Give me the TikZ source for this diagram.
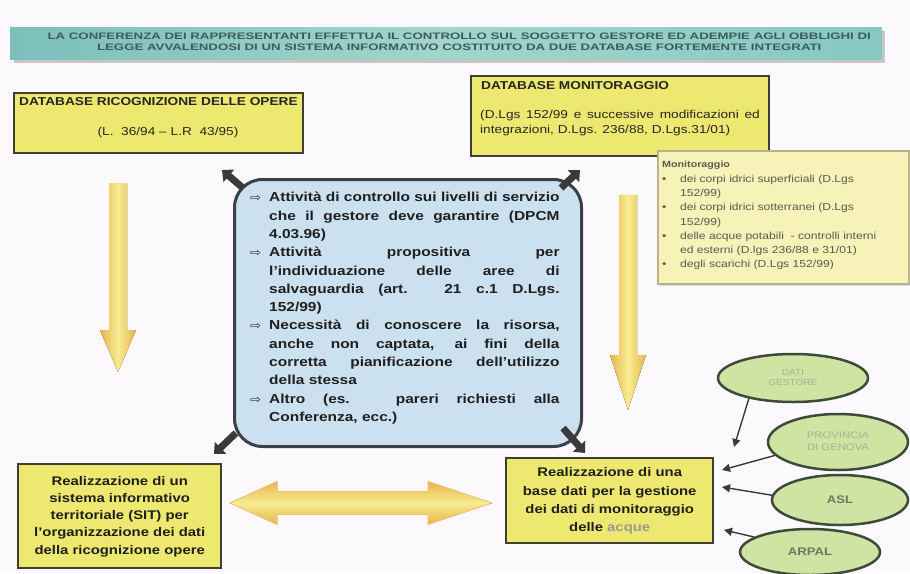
\documentclass[tikz,border=0pt]{standalone}
\usepackage{fontspec}
\setmainfont{Liberation Sans}
\newfontfamily\symf{DejaVu Sans}
\usepackage{graphicx}
\usetikzlibrary{arrows.meta,shapes.geometric,calc}
\definecolor{bgc}{HTML}{FBF9FB}
\definecolor{tealL}{HTML}{7CBFBB}
\definecolor{tealM}{HTML}{A3D5CB}
\definecolor{tealR}{HTML}{86C8C2}
\definecolor{titletext}{HTML}{3B5C5E}
\definecolor{yfill}{HTML}{EDE970}
\definecolor{boxline}{HTML}{3E3E34}
\definecolor{mfill}{HTML}{F6F2B8}
\definecolor{mline}{HTML}{B9B28A}
\definecolor{mtext}{HTML}{5A5A50}
\definecolor{cfill}{HTML}{CCE1EF}
\definecolor{cline}{HTML}{3A4048}
\definecolor{efill}{HTML}{CFE3A3}
\definecolor{eline}{HTML}{3E4A3A}
\definecolor{etextA}{HTML}{A3B392}
\definecolor{etextB}{HTML}{6B7862}
\definecolor{adark}{HTML}{3A3A3A}
\definecolor{orng}{HTML}{E8B54C}
\definecolor{lylw}{HTML}{F7EC92}
\newcommand{\sx}[1]{\scalebox{1.19}[1]{#1}}
\newcommand{\J}[2]{\makebox[#1][s]{#2}}
\newcommand{\B}{\makebox[16pt][l]{\symf\mdseries\fontsize{11}{11}\selectfont ⇨}}
\newcommand{\I}{\hspace*{16pt}}
\newcommand{\M}{\makebox[15pt][l]{•}}
\newcommand{\N}{\hspace*{15pt}}
\begin{document}
\begin{tikzpicture}[x=1pt,y=-1pt,
  ybox/.style={draw=boxline, line width=2.4pt, fill=yfill, inner sep=0pt, anchor=north west},
  ell/.style={ellipse, draw=eline, line width=2.5pt, fill=efill, inner sep=0pt},
  earrow/.style={draw=adark, line width=1.4pt, -{Triangle[length=8pt,width=8pt]}},
  carrow/.style={draw=adark, line width=7pt, -{Triangle[length=9pt,width=16pt]}},
  hfont/.style={font=\bfseries\fontsize{11.5}{13}\selectfont, inner sep=0pt, text=black!85},
  rfont/.style={font=\fontsize{11.5}{15}\selectfont, inner sep=0pt, text=black!85}]
\useasboundingbox (0,0) rectangle (910,573);
\fill[bgc] (0,0) rectangle (910,573);

% title banner
\fill[black!22] (14,31) rectangle (885,63);
\node[left color=tealL, right color=tealR, middle color=tealM, minimum width=872pt, minimum height=32pt, inner sep=0pt, anchor=north west] (title) at (10,27) {};
\node[font=\bfseries\fontsize{9.4}{11}\selectfont, text=titletext, inner sep=0pt] (titletxt) at ([xshift=13pt]title.center)
  {\scalebox{1.41}[1]{\begin{tabular}{@{}c@{}}LA CONFERENZA DEI RAPPRESENTANTI EFFETTUA IL CONTROLLO SUL SOGGETTO GESTORE ED ADEMPIE AGLI OBBLIGHI DI\\
  LEGGE AVVALENDOSI DI UN SISTEMA INFORMATIVO COSTITUITO DA DUE DATABASE FORTEMENTE INTEGRATI\end{tabular}}};

% top left database box
\node[ybox, minimum width=289pt, minimum height=60pt] (dbr) at (13,92) {};
\node[hfont, anchor=west] (dbrT) at (19,102) {\sx{DATABASE RICOGNIZIONE DELLE OPERE}};
\node[rfont] (dbrS) at (168,133) {\sx{(L.\ \ 36/94 -- L.R\ \ 43/95)}};

% top right database box
\node[ybox, minimum width=298pt, minimum height=80pt] (dbm) at (470,75) {};
\node[hfont, anchor=west] (dbmT) at (481,86) {\sx{DATABASE MONITORAGGIO}};
\node[rfont, anchor=west] (dbmS) at (480,123) {\sx{\begin{tabular}{@{}l@{}}\J{235pt}{(D.Lgs 152/99 e successive modificazioni ed}\\
  integrazioni, D.Lgs. 236/88, D.Lgs.31/01)\end{tabular}}};

% monitoring list box
\fill[black!15] (660,153) rectangle (911,286);
\node[draw=mline, line width=1.5pt, fill=mfill, minimum width=251pt, minimum height=133pt, inner sep=0pt, anchor=north west] (mon) at (657,150) {};
\node[font=\fontsize{10.2}{14.3}\selectfont, text=mtext, inner sep=0pt, anchor=west] (monT) at (662,215)
  {\sx{\begin{tabular}{@{}l@{}}\textbf{\fontsize{9}{10}\selectfont Monitoraggio}\\
  \M dei corpi idrici superficiali (D.Lgs\\
  \N 152/99)\\
  \M dei corpi idrici sotterranei (D.Lgs\\
  \N 152/99)\\
  \M delle acque potabili \ - controlli interni\\
  \N ed esterni (D.lgs 236/88 e 31/01)\\
  \M degli scarichi (D.Lgs 152/99)\end{tabular}}};

% central box
\node[draw=cline, line width=3pt, fill=cfill, rounded corners=28pt, minimum width=347pt, minimum height=267pt, inner sep=0pt, anchor=north west] (ctr) at (233,178) {};
\node[font=\bfseries\fontsize{13}{18.3}\selectfont, text=black!88, inner sep=0pt, anchor=west] (ctrT) at (250,308)
  {\sx{\begin{tabular}{@{}l@{}}\B\J{244pt}{Attività di controllo sui livelli di servizio}\\
  \I\J{244pt}{che il gestore deve garantire (DPCM}\\
  \I 4.03.96)\\
  \B\J{244pt}{Attività propositiva per}\\
  \I\J{244pt}{l'individuazione delle aree di}\\
  \I\J{244pt}{salvaguardia (art. 21 c.1 D.Lgs.}\\
  \I 152/99)\\
  \B\J{244pt}{Necessità di conoscere la risorsa,}\\
  \I\J{244pt}{anche non captata, ai fini della}\\
  \I\J{244pt}{corretta pianificazione dell'utilizzo}\\
  \I della stessa\\
  \B\J{244pt}{Altro (es. pareri richiesti alla}\\
  \I Conferenza, ecc.)\end{tabular}}};

% corner arrows of central box
\coordinate (tlA) at ($(ctr.north west)+(10,10)$);
\coordinate (tlB) at ($(ctr.north west)+(-11,-8)$);
\coordinate (trA) at ($(ctr.north east)+(-22,10)$);
\coordinate (trB) at ($(ctr.north east)+(-3,-8)$);
\coordinate (blA) at ($(ctr.south west)+(3,-15)$);
\coordinate (blB) at ($(ctr.south west)+(-19,6)$);
\coordinate (brA) at ($(ctr.south east)+(-20,-20)$);
\coordinate (brB) at ($(ctr.south east)+(2,5)$);
\draw[carrow] (tlA) -- (tlB);
\draw[carrow] (trA) -- (trB);
\draw[carrow] (blA) -- (blB);
\draw[carrow] (brA) -- (brB);

% vertical block arrows
\fill[left color=orng, right color=orng, middle color=lylw] (109,183) -- (127,183) -- (127,330) -- (136,330) -- (118,372) -- (100,330) -- (109,330) -- cycle;
\fill[left color=orng, right color=orng, middle color=lylw] (619,195) -- (637,195) -- (637,355) -- (646,355) -- (628,410) -- (610,355) -- (619,355) -- cycle;

% horizontal double arrow
\fill[top color=orng, bottom color=orng, middle color=lylw, draw=orng!80, line width=0.8pt] (230,503) -- (277,481.5) -- (277,491.5) -- (428,491.5) -- (428,481.5) -- (492,503) -- (428,524.5) -- (428,514.5) -- (277,514.5) -- (277,524.5) -- cycle;

% bottom boxes
\node[ybox, minimum width=203pt, minimum height=104pt] (sit) at (17,463) {};
\node[font=\bfseries\fontsize{12.5}{17.2}\selectfont, text=black!88, inner sep=0pt] (sitT) at (sit.center)
  {\sx{\begin{tabular}{@{}c@{}}Realizzazione di un\\ sistema informativo\\ territoriale (SIT) per\\ l'organizzazione dei dati\\ della ricognizione opere\end{tabular}}};
\node[ybox, minimum width=207pt, minimum height=85pt] (bdm) at (505,457) {};
\node[font=\bfseries\fontsize{12.5}{18.3}\selectfont, text=black!88, inner sep=0pt] (bdmT) at (bdm.center)
  {\sx{\begin{tabular}{@{}c@{}}Realizzazione di una\\ base dati per la gestione\\ dei dati di monitoraggio\\ delle \textcolor{black!40}{acque}\end{tabular}}};

% ellipses
\node[ell, minimum width=150pt, minimum height=48pt, font=\fontsize{8.5}{10}\selectfont, text=etextA] (dg) at (793,378)
  {\sx{\begin{tabular}{@{}c@{}}DATI\\ GESTORE\end{tabular}}};
\node[ell, minimum width=140pt, minimum height=56pt, font=\fontsize{9.5}{12}\selectfont, text=etextA] (pg) at (838,442)
  {\sx{\begin{tabular}{@{}c@{}}PROVINCIA\\ DI GENOVA\end{tabular}}};
\node[ell, minimum width=136pt, minimum height=50pt, font=\bfseries\fontsize{11}{12}\selectfont, text=etextB] (asl) at (840,500) {\sx{ASL}};
\node[ell, minimum width=140pt, minimum height=46pt, font=\bfseries\fontsize{11}{12}\selectfont, text=etextB] (arp) at (810,552) {\sx{ARPAL}};

% ellipse arrows
\coordinate (e1) at (734,447);
\coordinate (e2) at (722,470);
\coordinate (e3) at (722,487);
\coordinate (e4) at (724,530);
\draw[earrow] (dg.205) -- (e1);
\draw[earrow] (pg.192) -- (e2);
\draw[earrow] (asl.176) -- (e3);
\draw[earrow] (arp.165) -- (e4);
\end{tikzpicture}
\end{document}
